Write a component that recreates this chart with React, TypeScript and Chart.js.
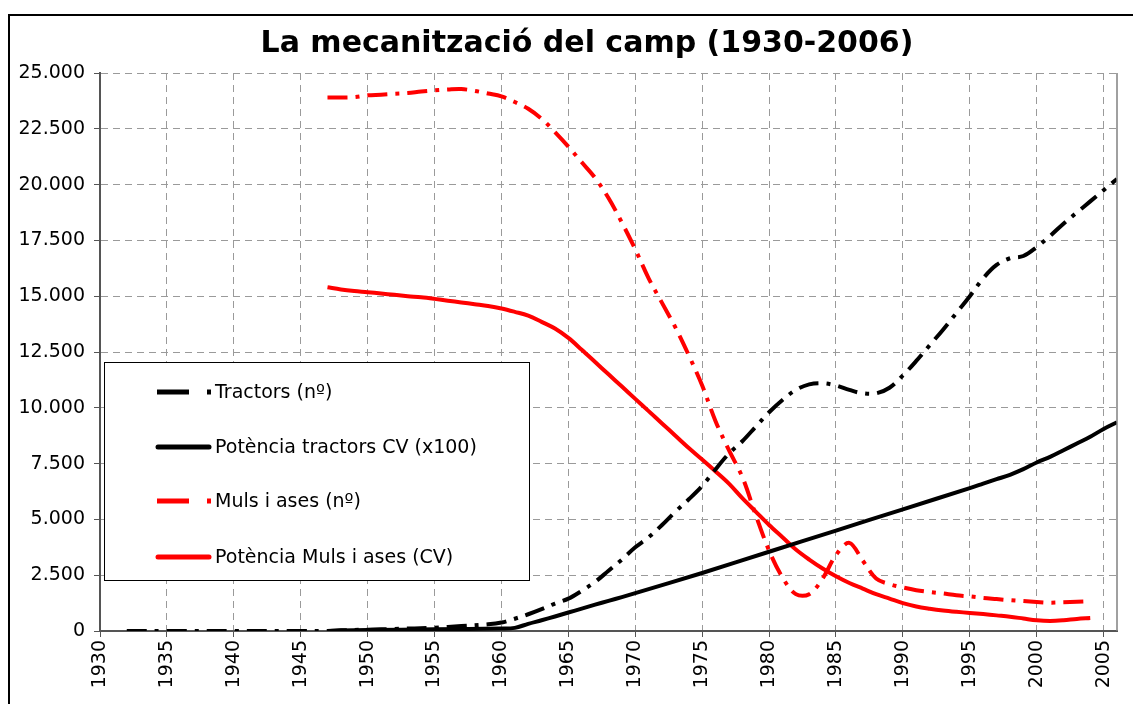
import { useEffect, useRef } from "react";
import { Chart, registerables } from "chart.js";

Chart.register(...registerables);

const chartTitle = "La mecanització del camp (1930-2006)";
const xTickYears = [1930, 1935, 1940, 1945, 1950, 1955, 1960, 1965, 1970, 1975, 1980, 1985, 1990, 1995, 2000, 2005];

const tractorYears = [1932, 1935, 1940, 1945, 1947, 1948, 1950, 1952, 1955, 1957, 1959, 1960, 1961, 1962, 1963, 1964, 1965, 1966, 1967, 1968, 1969, 1970, 1971, 1972, 1973, 1974, 1975, 1976, 1977, 1978, 1979, 1980, 1981, 1982, 1983, 1984, 1985, 1986, 1987, 1988, 1989, 1990, 1991, 1992, 1993, 1994, 1995, 1996, 1997, 1998, 1999, 2000, 2001, 2002, 2003, 2004, 2005, 2006];
const tractorValues = [0, 0, 0, 0, 0, 30, 60, 90, 150, 220, 300, 380, 550, 750, 980, 1230, 1450, 1800, 2200, 2700, 3200, 3750, 4200, 4750, 5350, 5900, 6500, 7250, 7950, 8500, 9150, 9800, 10350, 10800, 11050, 11100, 11000, 10800, 10650, 10650, 10900, 11450, 12100, 12800, 13500, 14250, 15000, 15800, 16400, 16700, 16800, 17200, 17700, 18250, 18750, 19250, 19750, 20250];

const powerTractorYears = [1947, 1948, 1950, 1955, 1960, 1961, 1962, 1963, 1964, 1965, 1966, 1967, 1968, 1969, 1970, 1975, 1980, 1985, 1990, 1995, 1996, 1997, 1998, 1999, 2000, 2001, 2002, 2003, 2004, 2005, 2006];
const powerTractorValues = [0, 20, 40, 80, 110, 140, 320, 480, 650, 830, 1000, 1180, 1350, 1520, 1700, 2600, 3550, 4500, 5450, 6400, 6600, 6800, 7000, 7250, 7550, 7800, 8100, 8400, 8700, 9050, 9350];

const mulesYears = [1947, 1948, 1949, 1950, 1951, 1952, 1953, 1954, 1955, 1956, 1957, 1958, 1959, 1960, 1961, 1962, 1963, 1964, 1965, 1966, 1967, 1968, 1969, 1970, 1971, 1972, 1973, 1974, 1975, 1976, 1977, 1978, 1979, 1980, 1981, 1982, 1983, 1984, 1985, 1986, 1987, 1988, 1989, 1990, 1991, 1992, 1993, 1994, 1995, 1996, 1997, 1998, 1999, 2000, 2001, 2002, 2003, 2004];
const mulesValues = [23900, 23900, 23920, 24000, 24030, 24070, 24100, 24170, 24220, 24260, 24280, 24200, 24080, 23950, 23700, 23400, 22950, 22350, 21700, 21000, 20300, 19400, 18300, 17100, 15800, 14700, 13600, 12350, 11000, 9400, 8100, 6900, 5200, 3600, 2400, 1650, 1650, 2350, 3400, 3950, 3150, 2350, 2100, 1950, 1830, 1750, 1680, 1600, 1550, 1480, 1430, 1380, 1340, 1300, 1270, 1290, 1310, 1330];

const powerMulesYears = [1947, 1948, 1949, 1950, 1951, 1952, 1953, 1954, 1955, 1956, 1957, 1958, 1959, 1960, 1961, 1962, 1963, 1964, 1965, 1966, 1967, 1968, 1969, 1970, 1971, 1972, 1973, 1974, 1975, 1976, 1977, 1978, 1979, 1980, 1981, 1982, 1983, 1984, 1985, 1986, 1987, 1988, 1989, 1990, 1991, 1992, 1993, 1994, 1995, 1996, 1997, 1998, 1999, 2000, 2001, 2002, 2003, 2004];
const powerMulesValues = [15400, 15300, 15230, 15180, 15120, 15060, 15000, 14950, 14880, 14800, 14720, 14640, 14560, 14450, 14300, 14130, 13850, 13550, 13130, 12600, 12050, 11500, 10950, 10400, 9850, 9300, 8750, 8200, 7680, 7150, 6600, 5950, 5350, 4750, 4200, 3650, 3200, 2800, 2450, 2150, 1900, 1650, 1450, 1250, 1100, 1000, 920, 860, 810, 760, 700, 640, 560, 480, 450, 480, 540, 580];

const seriesLabels = ["Tractors (nº)", "Potència tractors CV (x100)", "Muls i ases (nº)", "Potència Muls i ases (CV)"];
const seriesColors = ["#000000", "#000000", "#ff0000", "#ff0000"];
const seriesDashed = [true, false, true, false];

const FONT = "'DejaVu Sans', Verdana, sans-serif";

const toPoints = (xs: number[], ys: number[]) => xs.map((x, i) => ({ x, y: ys[i] }));

const formatThousands = (v: number) => String(Math.round(v)).replace(/\B(?=(\d{3})+(?!\d))/g, ".");

const decorPlugin = {
  id: "decor",
  beforeDraw(chart: any) {
    const ctx = chart.ctx;
    ctx.save();
    ctx.fillStyle = "#ffffff";
    ctx.fillRect(0, 0, chart.width, chart.height);
    ctx.strokeStyle = "#000000";
    ctx.lineWidth = 2;
    ctx.strokeRect(9, 15, chart.width + 20, chart.height + 20);
    ctx.restore();
  },
  afterDraw(chart: any) {
    const ctx = chart.ctx;
    const a = chart.chartArea;
    ctx.save();
    ctx.strokeStyle = "#808080";
    ctx.lineWidth = 1.5;
    ctx.beginPath();
    ctx.moveTo(a.right, a.top);
    ctx.lineTo(a.right, a.bottom);
    ctx.stroke();

    ctx.fillStyle = "#000";
    ctx.font = `bold 30px ${FONT}`;
    ctx.textAlign = "center";
    ctx.textBaseline = "middle";
    ctx.fillText(chartTitle, 587, 44);

    const bx = 104.5, by = 362.5, bw = 425, bh = 218;
    ctx.fillStyle = "#fff";
    ctx.fillRect(bx, by, bw, bh);
    ctx.strokeStyle = "#000";
    ctx.lineWidth = 1;
    ctx.strokeRect(bx, by, bw, bh);
    const rows = [392, 447, 501, 557];
    ctx.font = `19px ${FONT}`;
    ctx.textAlign = "left";
    ctx.textBaseline = "middle";
    seriesLabels.forEach((lab, i) => {
      const y = rows[i];
      ctx.fillStyle = seriesColors[i];
      ctx.strokeStyle = seriesColors[i];
      if (seriesDashed[i]) {
        ctx.fillRect(157, y - 2.5, 32, 5);
        ctx.fillRect(207, y - 2.5, 4, 5);
      } else {
        ctx.lineWidth = 5;
        ctx.lineCap = "round";
        ctx.beginPath();
        ctx.moveTo(158, y);
        ctx.lineTo(209, y);
        ctx.stroke();
      }
      ctx.fillStyle = "#000";
      ctx.fillText(lab, 215, y + 1);
    });
    ctx.restore();
  },
};

export default function App() {
  const ref = useRef<HTMLCanvasElement>(null);
  useEffect(() => {
    const canvas = ref.current!;
    const allData = [
      toPoints(tractorYears, tractorValues),
      toPoints(powerTractorYears, powerTractorValues),
      toPoints(mulesYears, mulesValues),
      toPoints(powerMulesYears, powerMulesValues),
    ];
    const chart = new Chart(canvas, {
      type: "line",
      data: {
        datasets: allData.map((d, i) => ({
          label: seriesLabels[i],
          data: d,
          borderColor: seriesColors[i],
          backgroundColor: seriesColors[i],
          borderWidth: 4,
          borderDash: seriesDashed[i] ? [20, 8, 4, 8] : [],
          borderCapStyle: "butt",
          pointRadius: 0,
          tension: 0.35,
          fill: false,
        })),
      },
      options: {
        responsive: false,
        animation: false,
        events: [],
        layout: { padding: { top: 73, right: 16, left: 0, bottom: 0 } },
        plugins: { legend: { display: false }, title: { display: false }, tooltip: { enabled: false } },
        scales: {
          x: {
            type: "linear",
            min: 1930,
            max: 2006,
            afterFit: (s: any) => { s.height = 73; },
            afterBuildTicks: (s: any) => { s.ticks = xTickYears.map((v) => ({ value: v })); },
            ticks: {
              autoSkip: false,
              minRotation: 90,
              maxRotation: 90,
              padding: 3,
              color: "#000",
              font: { family: FONT, size: 19 },
              callback: (v: any) => String(v),
            },
            grid: { color: "#9a9a9a", lineWidth: 1, tickLength: 6, tickColor: "#555", tickBorderDash: [] },
            border: { color: "#555", width: 2, dash: [7, 5] },
          },
          y: {
            min: 0,
            max: 25000,
            afterFit: (s: any) => { s.width = 100; },
            ticks: {
              stepSize: 2500,
              padding: 9,
              color: "#000",
              font: { family: FONT, size: 19 },
              callback: (v: any) => formatThousands(Number(v)),
            },
            grid: { color: "#9a9a9a", lineWidth: 1, tickLength: 6, tickColor: "#555", tickBorderDash: [] },
            border: { color: "#555", width: 2, dash: [7, 5] },
          },
        },
      } as any,
      plugins: [decorPlugin],
    });
    return () => chart.destroy();
  }, []);
  return (
    <div style={{ position: "absolute", left: 0, top: 0, width: 1133, height: 704, overflow: "hidden" }}>
      <canvas ref={ref} width={1133} height={704} style={{ display: "block" }} />
    </div>
  );
}
